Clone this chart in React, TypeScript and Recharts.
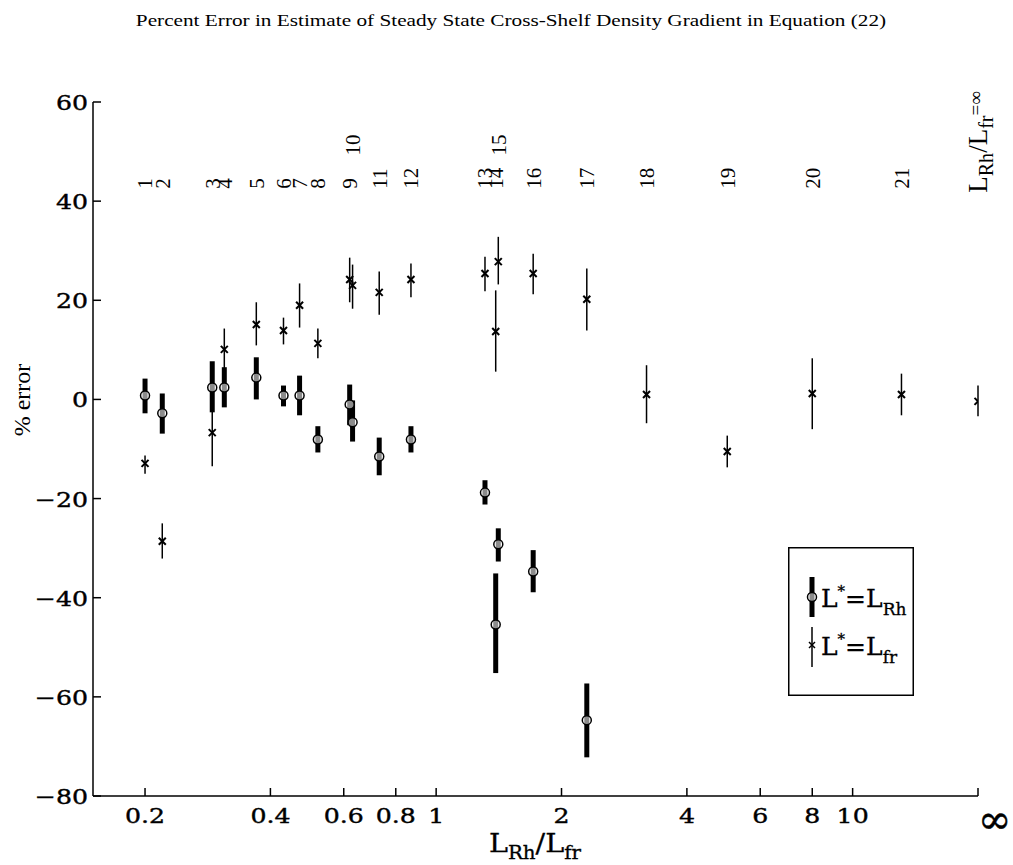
import React from 'react';
import { ScatterChart, Scatter, XAxis, YAxis, ErrorBar, ReferenceDot, Legend } from 'recharts';

// case numbers printed along the top of the plot
const caseLabels = ['1', '2', '3', '4', '5', '6', '7', '8', '9', '10', '11', '12', '13', '14', '15', '16', '17', '18', '19', '20', '21', 'inf'];

// L_Rh / L_fr for each case (the last one is infinite)
const ratios = [0.2, 0.22, 0.29, 0.31, 0.37, 0.43, 0.47, 0.52, 0.62, 0.63, 0.73, 0.87, 1.31, 1.39, 1.41, 1.71, 2.3, 3.2, 5.0, 8.0, 13.1, Infinity];

// L* = L_Rh (cases 1-17)
const rhMid = [0.8, -2.8, 2.4, 2.4, 4.4, 0.8, 0.8, -8.1, -1.0, -4.6, -11.5, -8.1, -18.8, -45.4, -29.2, -34.7, -64.7];
const rhHigh = [4.2, 1.2, 7.7, 6.5, 8.5, 2.8, 4.8, -5.4, 3.0, -0.2, -7.7, -5.4, -16.3, -35.1, -26.0, -30.4, -57.3];
const rhLow = [-2.8, -6.9, -2.6, -1.6, 0.0, -1.4, -3.2, -10.7, -5.2, -8.5, -15.3, -10.7, -21.2, -55.2, -32.7, -38.9, -72.2];

// L* = L_fr (all cases)
const frMid = [-12.9, -28.6, -6.7, 10.1, 15.1, 13.9, 19.0, 11.3, 24.2, 23.0, 21.6, 24.2, 25.4, 13.7, 27.8, 25.4, 20.2, 1.0, -10.5, 1.2, 1.0, -0.4];
const frHigh = [-11.3, -25.0, 0.2, 14.3, 19.6, 16.5, 23.4, 14.3, 28.6, 27.2, 25.8, 27.4, 28.8, 22.0, 32.8, 29.4, 26.4, 6.9, -7.3, 8.3, 5.2, 2.8];
const frLow = [-15.0, -32.1, -13.5, 5.0, 10.9, 11.1, 14.5, 8.3, 19.6, 18.3, 17.1, 20.6, 21.8, 5.6, 23.2, 21.2, 13.9, -4.8, -13.7, -6.0, -3.2, -3.4];

const xTicks = [0.2, 0.4, 0.6, 0.8, 1, 2, 4, 6, 8, 10, Infinity];
const yTicks = [-80, -60, -40, -20, 0, 20, 40, 60];

// infinity is drawn at the right end of the log axis
const INF_X = 20;
const plotX = (r: number) => (Number.isFinite(r) ? r : INF_X);

const rhData = rhMid.map((v, i) => ({ x: plotX(ratios[i]), y: v, err: [v - rhLow[i], rhHigh[i] - v] }));
const frData = frMid.map((v, i) => ({ x: plotX(ratios[i]), y: v, err: [v - frLow[i], frHigh[i] - v] }));
const labelData = caseLabels.map((t, i) => ({ x: plotX(ratios[i]), label: t }));

const SERIF = '"DejaVu Serif", serif';
const TIMES = '"Liberation Serif", "Times New Roman", serif';
// the original figure is stretched sideways, so its text is too
const WIDE = 1.2;

const XTick = (props: any) => {
  const { x, y, payload } = props;
  const inf = payload.value === INF_X;
  return (
    <g>
      <line x1={x} y1={y} x2={x} y2={y - 8} stroke="#000" strokeWidth={1.5} />
      {inf ? (
        <text x={x} y={y + 37} fontSize={40} fontFamily={SERIF} textAnchor="start" stroke="#000" strokeWidth={0.5}>∞</text>
      ) : (
        <text
          transform={`translate(${x} ${y + 27}) scale(${WIDE} 1)`}
          fontSize={21}
          fontFamily={SERIF}
          textAnchor="middle"
          stroke="#000"
          strokeWidth={0.4}
        >
          {payload.value}
        </text>
      )}
    </g>
  );
};

const YTick = (props: any) => {
  const { x, y, payload } = props;
  const v = payload.value;
  return (
    <g>
      <line x1={x} y1={y} x2={x + 8} y2={y} stroke="#000" strokeWidth={1.5} />
      <text
        transform={`translate(${x - 5} ${y + 8}) scale(${WIDE} 1)`}
        fontSize={21}
        fontFamily={SERIF}
        textAnchor="end"
        stroke="#000"
        strokeWidth={0.4}
      >
        {v < 0 ? '\u2212' + Math.abs(v) : String(v)}
      </text>
    </g>
  );
};

const CircleMark = (props: any) => {
  const { cx, cy } = props;
  return <circle cx={cx} cy={cy} r={4.5} fill="#fff" fillOpacity={0.55} stroke="#000" strokeWidth={1.5} />;
};

const CrossMark = (props: any) => {
  const { cx, cy } = props;
  const s = 3.5;
  return (
    <g stroke="#000" strokeWidth={2}>
      <line x1={cx - s} y1={cy - s} x2={cx + s} y2={cy + s} />
      <line x1={cx - s} y1={cy + s} x2={cx + s} y2={cy - s} />
    </g>
  );
};

const CaseLabel = (props: any) => {
  const { cx, cy, text } = props;
  if (text === 'inf') {
    return (
      <text x={cx} y={cy} transform={`rotate(-90 ${cx} ${cy})`} dy={9} fontSize={27} fontFamily={TIMES}>
        L<tspan fontSize={20} dy={6}>Rh</tspan>
        <tspan dy={-6}>/L</tspan>
        <tspan fontSize={20} dy={6}>fr</tspan>
        <tspan fontSize={19} dy={-11}>=∞</tspan>
      </text>
    );
  }
  return (
    <text x={cx} y={cy} transform={`rotate(-90 ${cx} ${cy})`} dy="0.35em" fontSize={21} fontFamily={TIMES}>
      {text}
    </text>
  );
};

const LegendBox = () => (
  <svg width={126} height={149} style={{ display: 'block' }}>
    <rect x={0.75} y={0.75} width={124.5} height={147.5} fill="#fff" stroke="#000" strokeWidth={1.5} />
    <line x1={24} y1={30} x2={24} y2={70} stroke="#000" strokeWidth={5} />
    <circle cx={24} cy={50} r={4.5} fill="#fff" fillOpacity={0.55} stroke="#000" strokeWidth={1.5} />
    <text x={33} y={60} fontSize={25} fontFamily={SERIF} stroke="#000" strokeWidth={0.3}>
      L<tspan fontSize={15} dy={-11}>*</tspan>
      <tspan dy={11}>=L</tspan>
      <tspan fontSize={17} dy={8}>Rh</tspan>
    </text>
    <line x1={24} y1={80} x2={24} y2={120} stroke="#000" strokeWidth={1.5} />
    <g stroke="#000" strokeWidth={1.5}>
      <line x1={21} y1={95} x2={27} y2={101} />
      <line x1={21} y1={101} x2={27} y2={95} />
    </g>
    <text x={33} y={108} fontSize={25} fontFamily={SERIF} stroke="#000" strokeWidth={0.3}>
      L<tspan fontSize={15} dy={-11}>*</tspan>
      <tspan dy={11}>=L</tspan>
      <tspan fontSize={17} dy={8}>fr</tspan>
    </text>
  </svg>
);

export default function App() {
  return (
    <div style={{ position: 'absolute', left: 0, top: 0, width: 1013, height: 865, background: '#fff' }}>
      <ScatterChart width={1013} height={865} margin={{ top: 102, right: 35, bottom: 29, left: 33 }}>
        <XAxis
          type="number"
          dataKey="x"
          scale="log"
          domain={[0.15, INF_X]}
          allowDataOverflow
          ticks={xTicks.map(plotX)}
          interval={0}
          height={40}
          tickSize={0}
          tickMargin={0}
          tickLine={false}
          tick={XTick}
          axisLine={{ stroke: '#000', strokeWidth: 1.5 }}
        />
        <YAxis
          type="number"
          dataKey="y"
          domain={[-80, 60]}
          allowDataOverflow
          ticks={yTicks}
          interval={0}
          width={60}
          tickSize={0}
          tickMargin={0}
          tickLine={false}
          tick={YTick}
          axisLine={{ stroke: '#000', strokeWidth: 1.5 }}
        />
        <Scatter name="L*=L_Rh" data={rhData} isAnimationActive={false} shape={CircleMark}>
          <ErrorBar dataKey="err" direction="y" width={0} stroke="#000" strokeWidth={5} isAnimationActive={false} />
        </Scatter>
        <Scatter name="L*=L_fr" data={frData} isAnimationActive={false} shape={CrossMark}>
          <ErrorBar dataKey="err" direction="y" width={0} stroke="#000" strokeWidth={1.5} isAnimationActive={false} />
        </Scatter>
        {labelData.map((d) => (
          <ReferenceDot
            key={d.label}
            x={d.x}
            y={d.label === '10' || d.label === '15' ? 49.2 : d.label === 'inf' ? 41.7 : 42.5}
            ifOverflow="visible"
            shape={(p: any) => <CaseLabel {...p} text={d.label} />}
          />
        ))}
        <Legend
          layout="horizontal"
          verticalAlign="middle"
          align="center"
          wrapperStyle={{ position: 'absolute', left: 788, top: 547, width: 126, height: 149 }}
          content={() => <LegendBox />}
        />
      </ScatterChart>
      <svg width={1013} height={865} style={{ position: 'absolute', left: 0, top: 0, pointerEvents: 'none' }}>
        <text transform="translate(511 26) scale(1.25 1)" fontSize={17} fontFamily={TIMES} textAnchor="middle">
          Percent Error in Estimate of Steady State Cross-Shelf Density Gradient in Equation (22)
        </text>
        <text transform="translate(30 400) rotate(-90)" fontSize={24} fontFamily={TIMES} textAnchor="middle">
          % error
        </text>
        <text transform="translate(535 852) scale(1.1 1)" fontSize={26} fontFamily={SERIF} textAnchor="middle" stroke="#000" strokeWidth={0.3}>
          L<tspan fontSize={18} dy={7}>Rh</tspan>
          <tspan dy={-7}>/L</tspan>
          <tspan fontSize={18} dy={7}>fr</tspan>
        </text>
      </svg>
    </div>
  );
}
